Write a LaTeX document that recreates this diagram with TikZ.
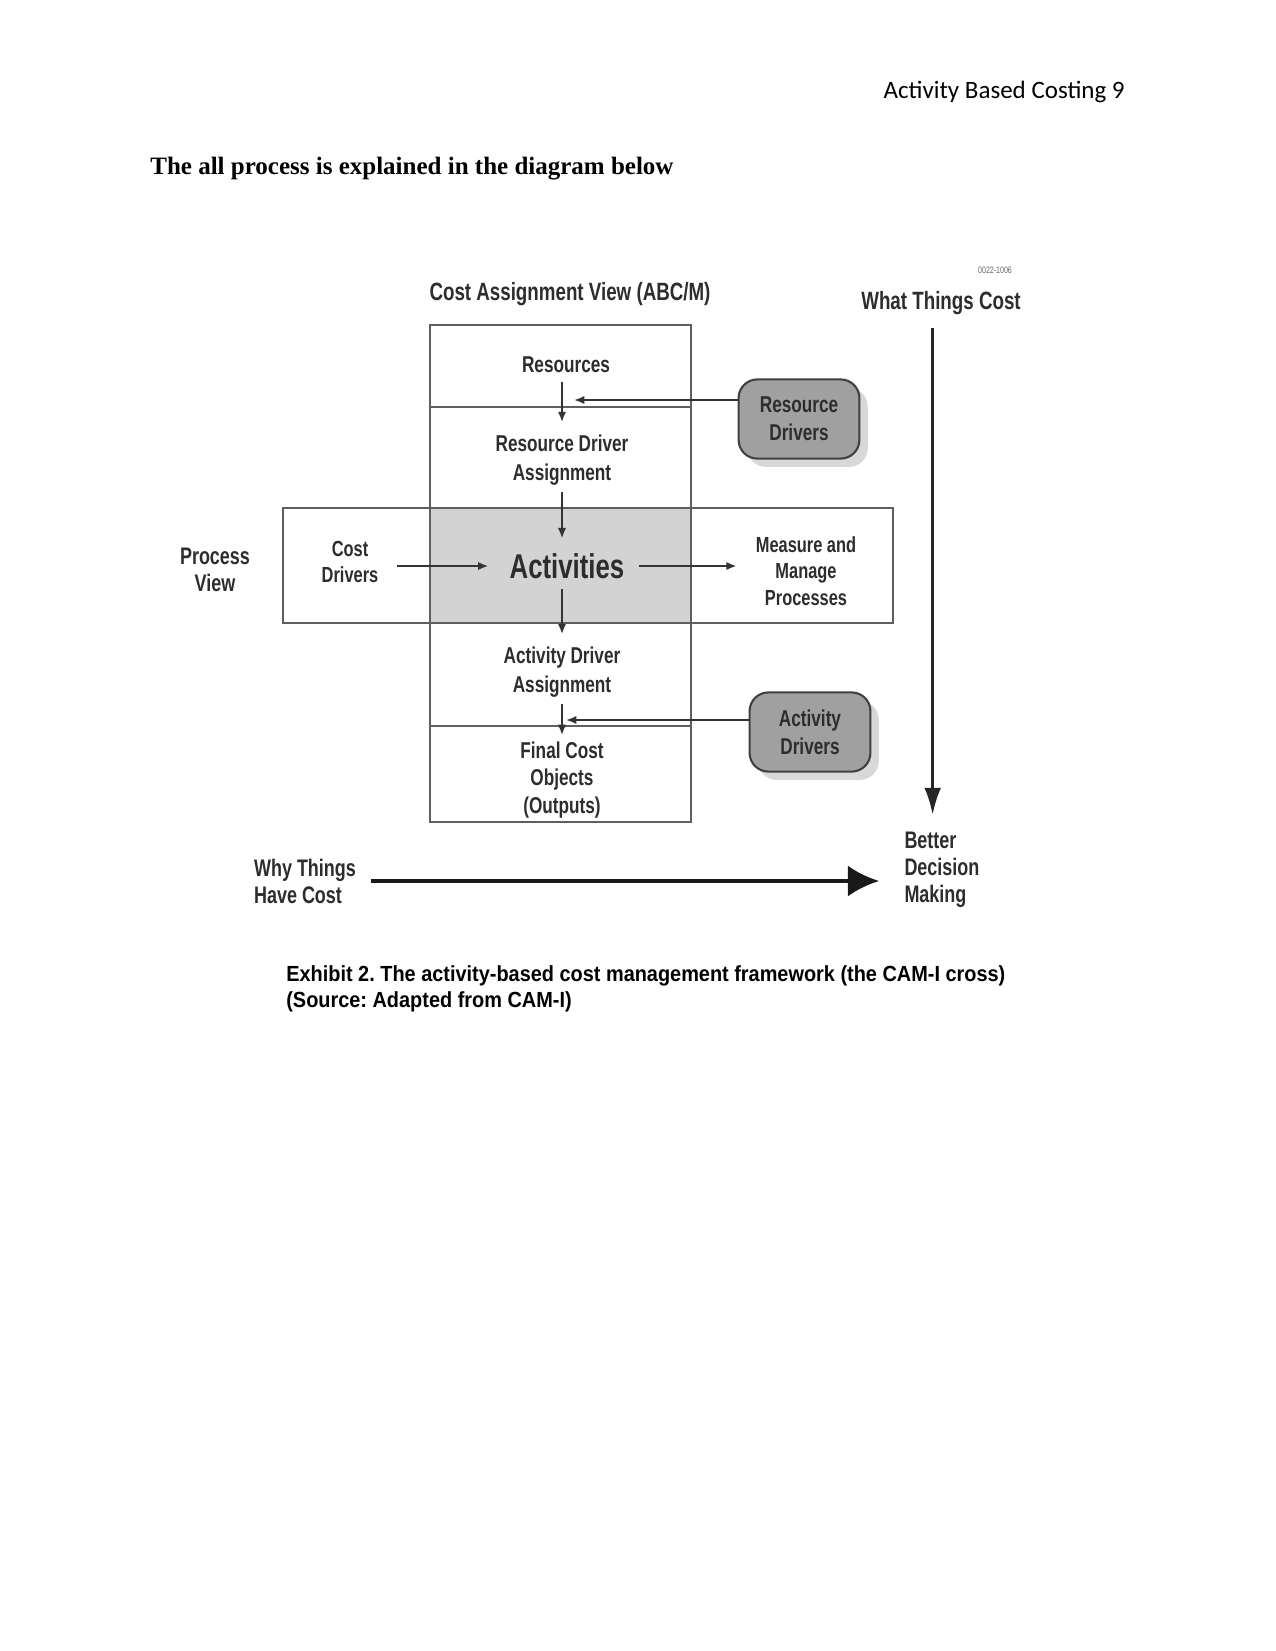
\documentclass[tikz,border=0pt]{standalone}
\usepackage{fontspec}
\setmainfont{Liberation Serif}
\newfontfamily\hdrfont{Carlito}
\newfontfamily\camfont[FakeStretch=0.75]{Liberation Sans}
\newfontfamily\capfont[FakeStretch=0.91]{Liberation Sans}
\usetikzlibrary{arrows.meta,shadows,positioning}
\definecolor{CellGrey}{RGB}{211,211,211}
\definecolor{DriverGrey}{RGB}{160,160,160}
\definecolor{InkGrey}{RGB}{45,45,45}
\definecolor{LineGrey}{RGB}{95,95,95}
\newcommand{\camtext}[2]{\camfont\bfseries\fontsize{#1}{#2}\selectfont}
\frenchspacing

\begin{document}
\begin{tikzpicture}[x=0.48pt,y=-0.48pt,
  lbl/.style={font=\camtext{11}{13.6},text=InkGrey,align=center,inner sep=1pt},
  frame/.style={draw=LineGrey,line width=1pt},
  driver/.style={lbl,draw=black!75,line width=1pt,fill=DriverGrey,rounded corners=9pt,
    minimum width=58pt,minimum height=38pt,
    drop shadow={opacity=0.3,shadow xshift=4pt,shadow yshift=-4pt}},
  flow/.style={-{Latex[length=5pt,width=4pt]},line width=0.9pt,black!80},
  bigflow/.style={-{Latex[length=13pt,width=8pt]},line width=1.5pt,black!85},
  wideflow/.style={-{Latex[length=15pt,width=15pt]},line width=2pt,black!90}]
  \useasboundingbox[fill=white] (0,0) rectangle (1275,1651);

  % page text
  \node[font=\hdrfont\fontsize{12}{14}\selectfont,anchor=east] (hdr) at (1132,92) {Activity Based Costing 9};
  \node[font=\bfseries\fontsize{12}{14}\selectfont,anchor=west] (ttl) at (143,169) {The all process is explained in the diagram below};

  % the cross
  \fill[CellGrey] (430,508) rectangle (691,623);
  \draw[frame] (430,325) rectangle (691,822);
  \draw[frame] (283,508) rectangle (893,623);
  \draw[frame,line width=1.3pt] (430,508) rectangle (691,623);
  \draw[frame,line width=1.3pt] (430,407) -- (691,407);
  \draw[frame,line width=1.3pt] (430,726) -- (691,726);

  \node[lbl,font=\camtext{12}{14}] (cav) at (570,294) {Cost Assignment View (ABC/M)};
  \node[lbl,font=\camtext{12}{14}] (wtc) at (941,303) {What Things Cost};
  \node[font=\camfont\fontsize{4.5}{5}\selectfont,text=black!60] (code) at (995,270) {0022-1006};

  \node[lbl] (res) at (566,365) {Resources};
  \node[lbl] (rda) at (562,460) {Resource Driver\\Assignment};
  \node[lbl,font=\camtext{16.5}{19}] (act) at (567,566) {Activities};
  \node[lbl] (ada) at (562,672) {Activity Driver\\Assignment};
  \node[lbl,font=\camtext{11}{13.2}] (fco) at (562,780) {Final Cost\\Objects\\(Outputs)};
  \node[lbl,font=\camtext{10.5}{12.5}] (cd) at (350,562) {Cost\\Drivers};
  \node[lbl,font=\camtext{10.5}{12.6}] (mm) at (806,571) {Measure and\\Manage\\Processes};
  \node[lbl,font=\camtext{11.5}{13}] (pv) at (215,570) {Process\\View};

  \node[driver] (rdrv) at (799,419) {Resource\\Drivers};
  \node[driver] (adrv) at (810,732) {Activity\\Drivers};

  \node[lbl,font=\camtext{11.5}{13},align=left] (why) at (305,881) {Why Things\\Have Cost};
  \node[lbl,font=\camtext{11.5}{13},align=left,anchor=west] (bdm) at (902,870) {Better\\Decision\\Making};

  \node[font=\capfont\bfseries\fontsize{10.5}{12.5}\selectfont,align=left,anchor=west] (cap) at (279,989)
    {Exhibit 2. The activity-based cost management framework (the CAM-I cross)\\(Source: Adapted from CAM-I)};

  % flows down the column
  \draw[flow,shorten <=3pt,shorten >=5pt] (res.south -| rda) -- (rda.north);
  \draw[flow,shorten <=2pt,shorten >=6pt] (rda.south) -- (rda.south |- act.north);
  \draw[flow,shorten <=4pt,shorten >=5pt] (act.south -| ada) -- (ada.north);
  \draw[flow,shorten <=2pt,shorten >=2pt] (ada) -- (fco);

  % flows across the band
  \draw[flow,line width=1.1pt,shorten <=8pt,shorten >=9pt] (cd.east |- act) -- (act.west);
  \draw[flow,line width=1.1pt,shorten <=6pt,shorten >=8pt] (act.east) -- (act.east -| mm.west);

  % drivers
  \coordinate (rdin) at (574,400);
  \coordinate (adin) at (566,720);
  \draw[flow] (rdrv.west |- rdin) -- (rdin);
  \draw[flow] (adrv.west |- adin) -- (adin);

  % outer axes
  \draw[bigflow,shorten <=5pt,shorten >=7pt] ([xshift=-4pt]wtc.south) -- ([xshift=-4pt]wtc.south |- bdm.north);
  \draw[wideflow,shorten <=6pt,shorten >=11pt] (why.east) -- (why.east -| bdm.west);
\end{tikzpicture}
\end{document}
